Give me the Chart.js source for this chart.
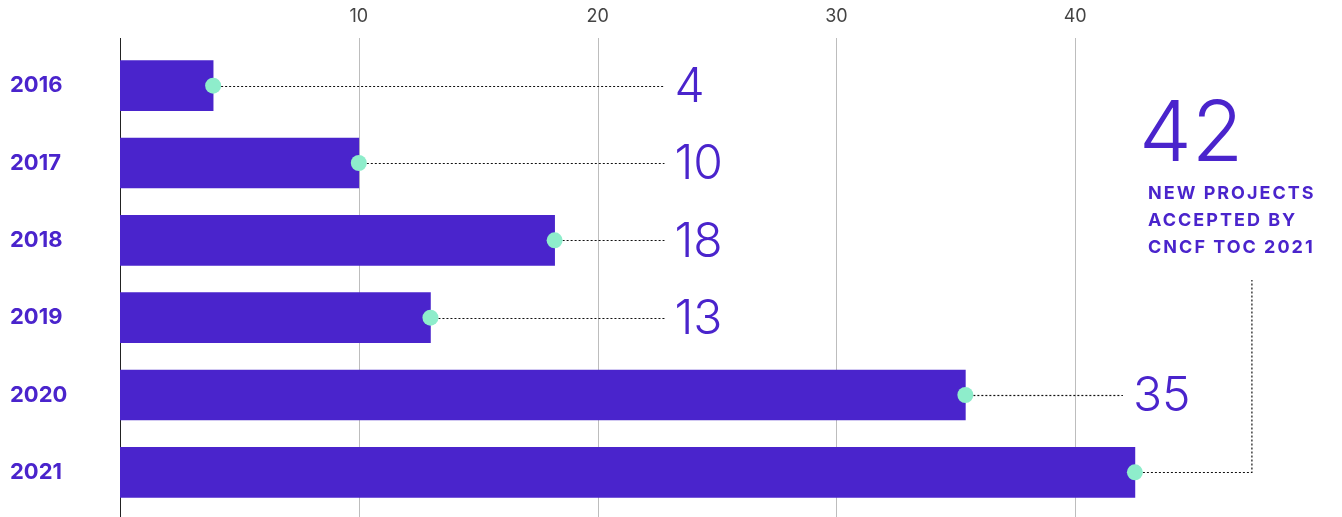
<!DOCTYPE html>
<html>
<head>
<meta charset="utf-8">
<script src="https://cdn.jsdelivr.net/npm/chart.js@4/dist/chart.umd.min.js"></script>
<style>
  html, body { margin: 0; padding: 0; background: #fff; }
  #wrap { width: 1342px; height: 517px; position: relative; }
</style>
</head>
<body>
<div id="wrap"><canvas id="projectsChart"></canvas></div>
<script>
const years = ["2016", "2017", "2018", "2019", "2020", "2021"];
const acceptedProjects = [3.9, 10, 18.2, 13, 35.4, 42.5];
const valueLabels = ["4", "10", "18", "13", "35", "42"];
const gridTicks = [10, 20, 30, 40];

const purple = "#4a24cc";
const mint = "#8eedcb";

// grid, axis line, dotted leaders, dots, value labels, callout
const leaderPlugin = {
  id: "leaders",
  beforeDatasetsDraw(chart) {
    const { ctx, scales } = chart;
    const x = scales.x;
    ctx.save();
    ctx.strokeStyle = "#bdbdbd";
    ctx.lineWidth = 1;
    gridTicks.forEach((t) => {
      const px = Math.round(x.getPixelForValue(t)) + 0.5;
      ctx.beginPath();
      ctx.moveTo(px, 38);
      ctx.lineTo(px, chart.height);
      ctx.stroke();
    });
    ctx.strokeStyle = "#222";
    const ax = Math.round(x.getPixelForValue(0)) + 0.5;
    ctx.beginPath();
    ctx.moveTo(ax, 38);
    ctx.lineTo(ax, chart.height);
    ctx.stroke();
    ctx.restore();
  },
  afterDatasetsDraw(chart, args, opts) {
    const { ctx, scales } = chart;
    const x = scales.x;
    const meta = chart.getDatasetMeta(0);
    ctx.save();
    meta.data.forEach((bar, i) => {
      const y = Math.round(bar.y) + 0.5;
      const endX = x.getPixelForValue(opts.end[i]);
      ctx.strokeStyle = "#111";
      ctx.lineWidth = 1.2;
      ctx.setLineDash([2, 2]);
      ctx.beginPath();
      ctx.moveTo(bar.x, y);
      ctx.lineTo(endX, y);
      if (i === meta.data.length - 1) {
        ctx.lineTo(endX, opts.calloutBottom);
      }
      ctx.stroke();
      ctx.setLineDash([]);

      if (i < meta.data.length - 1) {
        ctx.fillStyle = purple;
        ctx.font = "300 48px Inter, 'Open Sans', sans-serif";
        ctx.textBaseline = "middle";
        ctx.textAlign = "left";
        ctx.fillText(valueLabels[i], endX + 10, bar.y + 2);
      }

      ctx.fillStyle = mint;
      ctx.beginPath();
      ctx.arc(bar.x, bar.y, 8, 0, Math.PI * 2);
      ctx.fill();
    });

    // callout for 2021
    const cx = x.getPixelForValue(opts.calloutX);
    ctx.fillStyle = purple;
    ctx.textAlign = "left";
    ctx.textBaseline = "alphabetic";
    ctx.font = "300 84px Inter, 'Open Sans', sans-serif";
    ctx.fillText(valueLabels[valueLabels.length - 1], cx - 9, 161);
    ctx.font = "700 18px Inter, 'Noto Sans', sans-serif";
    ctx.letterSpacing = "2px";
    ["NEW PROJECTS", "ACCEPTED BY", "CNCF TOC 2021"].forEach((line, k) => {
      ctx.fillText(line, cx, 199 + k * 27);
    });
    ctx.restore();
  }
};

new Chart(document.getElementById("projectsChart"), {
  type: "bar",
  data: {
    labels: years,
    datasets: [
      {
        data: acceptedProjects,
        backgroundColor: purple,
        barThickness: 50,
      },
    ],
  },
  options: {
    indexAxis: "y",
    responsive: true,
    maintainAspectRatio: false,
    animation: false,
    layout: { padding: { left: 10, right: 28, top: 0, bottom: 6 } },
    plugins: {
      legend: { display: false },
      tooltip: { enabled: false },
      leaders: {
        end: [22.8, 22.8, 22.8, 22.8, 42, 47.4],
        calloutX: 43.05,
        calloutBottom: 280,
      },
    },
    scales: {
      x: {
        position: "top",
        min: 0,
        max: 50,
        grid: { display: false },
        border: { display: false },
        ticks: {
          stepSize: 10,
          padding: 12,
          color: "#444",
          font: { family: "Inter, 'Open Sans', sans-serif", size: 18, weight: "400" },
          callback: (v) => (gridTicks.includes(v) ? v : ""),
        },
        afterFit: (scale) => {
          scale.height = 47;
          scale.paddingLeft = 0;
          scale.paddingRight = 0;
        },
      },
      y: {
        grid: { display: false },
        border: { display: false },
        ticks: {
          crossAlign: "far",
          color: purple,
          font: { family: "Inter, 'Noto Sans', sans-serif", size: 22, weight: "700" },
        },
        afterFit: (scale) => {
          scale.width = 110;
          scale.paddingTop = 0;
          scale.paddingBottom = 0;
        },
      },
    },
  },
  plugins: [leaderPlugin],
});
</script>
</body>
</html>
